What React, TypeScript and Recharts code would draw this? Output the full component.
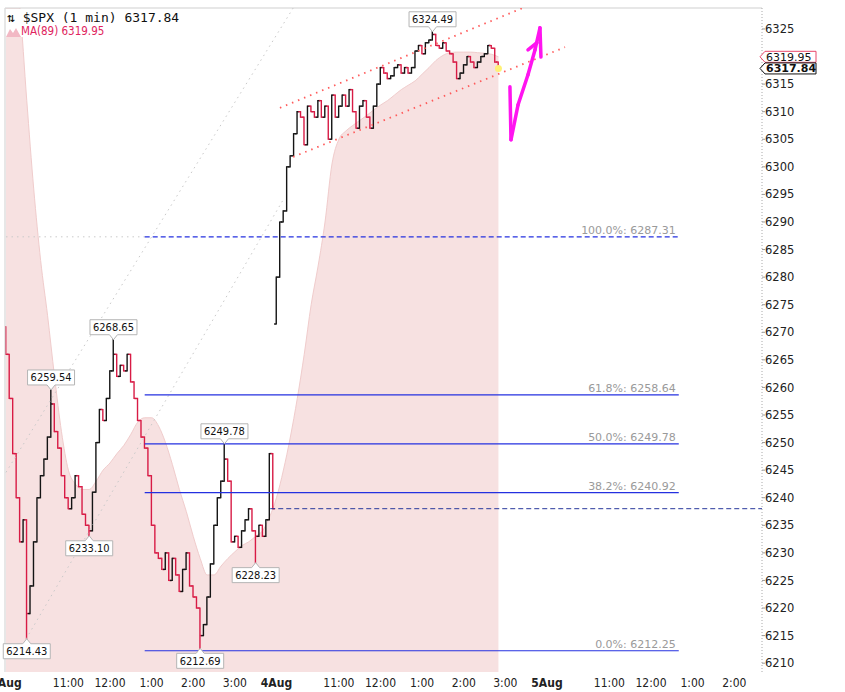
import React from 'react';
import { ComposedChart, Bar, Area, XAxis, YAxis, ReferenceLine, ReferenceDot } from 'recharts';

// minute index: 0 = 9:30 Aug 1, 390 = 9:30 Aug 4, 780 = 9:30 Aug 5
const X_MIN = -1.4;
const X_MAX = 1090;
const Y_MIN = 6208.4;
const Y_MAX = 6328.8;

const sessionStart = [0, 390];
const sessionOpen = [6271.0, 6271.5];

// 5-minute closes
const aug1Close = [
  6266, 6258, 6248, 6240, 6232, 6236, 6219, 6224, 6232, 6240,
  6244, 6247, 6251, 6257, 6252, 6249, 6244, 6240, 6238, 6240,
  6244, 6242, 6237, 6235, 6234, 6241, 6250, 6256, 6254, 6258,
  6263, 6266, 6262, 6264, 6263, 6266, 6261, 6258, 6254, 6251,
  6249, 6244, 6235, 6230, 6229, 6227, 6230, 6225, 6229, 6226,
  6223, 6227, 6230, 6224, 6222, 6220, 6215, 6217, 6222, 6228,
  6235, 6240, 6243, 6247, 6243, 6232, 6233, 6231, 6234, 6236,
  6238, 6234, 6233, 6235, 6233, 6236, 6248, 6238.01,
];

const aug4Close = [
  6280, 6290, 6292, 6300, 6302, 6306, 6310, 6309, 6304, 6311,
  6310, 6309, 6312, 6309, 6311, 6305, 6313, 6309, 6311, 6313,
  6311, 6314, 6310, 6307, 6311, 6312, 6309, 6307, 6311, 6315,
  6318, 6317, 6316, 6316.5, 6318, 6318.5, 6317, 6318, 6317, 6318,
  6321, 6322, 6320.5, 6322.5, 6323, 6324, 6322, 6321.5, 6322.5, 6321,
  6320.5, 6319, 6316, 6317, 6318.5, 6320, 6319, 6318, 6319, 6320,
  6320.5, 6322, 6321.5, 6319, 6317.84,
];

// MA(89) read every 10 minutes
const maMinutes = Array.from({ length: 72 }, (_, i) => i * 10);
const maValues = [
  6345, 6338, 6329, 6312, 6296, 6283, 6273, 6262, 6252, 6245,
  6242.5, 6241.5, 6241.5, 6243, 6245, 6246.3, 6248, 6249.5, 6251.5, 6253.7,
  6254.5, 6254.5, 6253, 6250, 6246, 6241.5, 6237.5, 6233, 6229, 6226,
  6226, 6227.6, 6229, 6230.2, 6231.3, 6232, 6233, 6234, 6236.5, 6240,
  6245, 6251, 6258, 6266, 6275, 6282, 6290, 6300.5, 6305, 6306.5,
  6307.5, 6308.4, 6309.3, 6310.3, 6311.2, 6312, 6313, 6314, 6314.8, 6315.6,
  6316.8, 6318, 6319.3, 6320.2, 6320.7, 6320.8, 6320.8, 6320.8, 6320.7, 6320.6,
  6320.4, 6319.95,
];

const pivots = [
  { t: 30, price: 6214.43, side: 'low' },
  { t: 65, price: 6259.54, side: 'high' },
  { t: 120, price: 6233.1, side: 'low' },
  { t: 155, price: 6268.65, side: 'high' },
  { t: 280, price: 6212.69, side: 'low' },
  { t: 315, price: 6249.78, side: 'high' },
  { t: 360, price: 6228.23, side: 'low' },
  { t: 615, price: 6324.49, side: 'high' },
];

const fibLevels = [
  { pct: '100.0%', price: 6287.31, dashed: true },
  { pct: '61.8%', price: 6258.64, dashed: false },
  { pct: '50.0%', price: 6249.78, dashed: false },
  { pct: '38.2%', price: 6240.92, dashed: false },
  { pct: '0.0%', price: 6212.25, dashed: false },
];
const fibFrom = 200;
const fibTo = 970;

const prevClose = 6238.01;
const lastPrice = 6317.84;
const maLast = 6319.95;

const channelUpper = [{ t: 395, p: 6310.7 }, { t: 774, p: 6330.3 }];
const channelLower = [{ t: 414, p: 6301.8 }, { t: 806, p: 6321.7 }];
const trendA = [{ t: 0, p: 6244.6 }, { t: 420, p: 6330 }];
const trendB = [{ t: 29, p: 6214.4 }, { t: 400, p: 6294.1 }];

const arrowStroke = [
  { t: 726.6, p: 6314.5 },
  { t: 728.1, p: 6304.9 },
  { t: 738.2, p: 6311.2 },
  { t: 752.6, p: 6316.7 },
  { t: 762.7, p: 6321.2 },
  { t: 769.9, p: 6325.2 },
  { t: 771.3, p: 6319.9 },
];
const arrowHook = [{ t: 752.6, p: 6321.2 }, { t: 765.6, p: 6322.5 }];

const timeTicks = [0, 90, 150, 210, 270, 330, 390, 480, 540, 600, 660, 720, 780, 870, 930, 990, 1050];
const timeLabels = ['1Aug', '11:00', '12:00', '1:00', '2:00', '3:00', '4Aug', '11:00', '12:00', '1:00', '2:00', '3:00', '5Aug', '11:00', '12:00', '1:00', '2:00'];

const priceTicks = [
  6210, 6215, 6220, 6225, 6230, 6235, 6240, 6245, 6250, 6255, 6260, 6265, 6270,
  6275, 6280, 6285, 6290, 6295, 6300, 6305, 6310, 6315, 6325,
];

const bars = [aug1Close, aug4Close].flatMap((closes, s) =>
  closes.map((close, i) => {
    const t = sessionStart[s] + i * 5;
    const prev = i === 0 ? sessionOpen[s] : closes[i - 1];
    const piv = pivots.find((p) => p.t === t);
    const extra = piv ? [piv.price] : [];
    return { t, prev, close, range: [Math.min(prev, close, ...extra), Math.max(prev, close, ...extra)] };
  })
);

const maRows = maMinutes.map((t, i) => ({ t, ma: maValues[i] }));

const LABEL_FONT = "'DejaVu Sans Condensed', 'DejaVu Sans', sans-serif";

const OhlcShape = (props: any) => {
  const { x, y, width, height, payload } = props;
  if (x == null || y == null) return null;
  const top = Math.min(y, y + height);
  const h = Math.max(Math.abs(height), 1);
  const [lo, hi] = payload.range;
  const span = hi - lo || 1;
  const yOf = (p: number) => top + ((hi - p) / span) * h;
  const cx = x + width / 2;
  const color = payload.close >= payload.prev ? '#141414' : '#d81b45';
  return (
    <g stroke={color} strokeWidth={1.4}>
      <line x1={cx} x2={cx} y1={top - 0.6} y2={top + h + 0.6} />
      <line x1={cx - 2.2} x2={cx} y1={yOf(payload.prev)} y2={yOf(payload.prev)} />
      <line x1={cx} x2={cx + 2.2} y1={yOf(payload.close)} y2={yOf(payload.close)} />
    </g>
  );
};

const PivotTag = ({ cx, cy, text, side }: any) => {
  const w = 47;
  const h = 15;
  const tip = 5;
  const l = cx - w / 2;
  const r = cx + w / 2;
  let d: string;
  let top: number;
  if (side === 'high') {
    top = cy - tip - h;
    d = `M${l},${top} H${r} V${top + h} H${cx + 4} L${cx},${cy} L${cx - 4},${top + h} H${l} Z`;
  } else {
    top = cy + tip;
    d = `M${l},${top} H${cx - 4} L${cx},${cy} L${cx + 4},${top} H${r} V${top + h} H${l} Z`;
  }
  return (
    <g>
      <path d={d} fill="#fff" stroke="#b5b5b5" strokeWidth={1} />
      <text x={cx} y={top + h / 2} dy="0.36em" textAnchor="middle" fontSize={11} fontFamily={LABEL_FONT} fill="#111">
        {text}
      </text>
    </g>
  );
};

const PriceMarker = ({ cx, cy, text, border, bold }: any) => {
  const d = `M${cx - 2},${cy} L${cx + 3},${cy - 5.5} H${cx + 54} V${cy + 5.5} H${cx + 3} Z`;
  return (
    <g>
      <path d={d} fill="#fff" stroke={border} strokeWidth={1} />
      <text x={cx + 4} y={cy} dy="0.36em" fontSize={11} fontWeight={bold ? 'bold' : 'normal'} fontFamily="'DejaVu Sans', sans-serif" fill="#111">
        {text}
      </text>
    </g>
  );
};

const TimeTick = (props: any) => {
  const { x, y, payload } = props;
  const label = timeLabels[timeTicks.indexOf(payload.value)] ?? '';
  const bold = label.includes('Aug');
  return (
    <text x={x} y={y} dy="0.71em" textAnchor="middle" fontSize={12} fontWeight={bold ? 'bold' : 'normal'}
      fontFamily="'Liberation Sans Narrow', 'DejaVu Sans Condensed', sans-serif" fill="#222">
      {label}
    </text>
  );
};

const seg = (pts: { t: number; p: number }[]) => pts.map((q) => ({ x: q.t, y: q.p }));

export default function App() {
  return (
    <div style={{ position: 'absolute', left: 0, top: 0, width: 845, height: 692, background: '#fff' }}>
      <ComposedChart width={845} height={692} data={bars} margin={{ top: 8, right: 0, left: 5, bottom: 0 }}>
        <XAxis
          type="number"
          dataKey="t"
          domain={[X_MIN, X_MAX]}
          allowDataOverflow
          ticks={timeTicks}
          interval={0}
          tick={<TimeTick />}
          tickLine={false}
          axisLine={false}
          tickSize={4}
          tickMargin={2}
          height={20}
        />
        <YAxis
          orientation="right"
          type="number"
          domain={[Y_MIN, Y_MAX]}
          allowDataOverflow
          ticks={priceTicks}
          interval={0}
          width={83}
          tickSize={3}
          tickMargin={0}
          tick={{ fontSize: 11.5, fill: '#222', fontFamily: "'DejaVu Sans', sans-serif" }}
          tickLine={{ stroke: '#999' }}
          axisLine={{ stroke: '#aaa', strokeDasharray: '1 2' }}
        />
        <Area
          data={maRows}
          dataKey="ma"
          type="monotone"
          fill="#f7e1e1"
          fillOpacity={1}
          stroke="#f0cccc"
          strokeWidth={1}
          dot={false}
          activeDot={false}
          isAnimationActive={false}
        />
        <ReferenceLine y={Y_MAX} stroke="#cfcfcf" ifOverflow="visible" />
        <ReferenceLine x={X_MIN} stroke="#cfcfcf" ifOverflow="visible" />
        <ReferenceLine segment={seg(trendA)} stroke="#c9c9c9" strokeDasharray="1.5 4" ifOverflow="hidden" />
        <ReferenceLine segment={seg(trendB)} stroke="#c9c9c9" strokeDasharray="1.5 4" ifOverflow="hidden" />
        <ReferenceLine
          segment={[{ x: 0, y: fibLevels[0].price }, { x: fibFrom, y: fibLevels[0].price }]}
          stroke="#c9c9c9"
          strokeDasharray="1.5 4"
          ifOverflow="hidden"
        />
        {fibLevels.map((f) => (
          <ReferenceLine
            key={f.pct}
            segment={[{ x: fibFrom, y: f.price }, { x: fibTo, y: f.price }]}
            stroke="#2430e0"
            strokeWidth={1.2}
            strokeDasharray={f.dashed ? '5 3' : undefined}
            ifOverflow="hidden"
            label={{
              value: `${f.pct}: ${f.price.toFixed(2)}`,
              position: 'insideBottomRight',
              offset: 3,
              fontSize: 11,
              fill: '#9a9a9a',
              fontFamily: "'DejaVu Sans', sans-serif",
            }}
          />
        ))}
        <ReferenceLine
          segment={[{ x: 381, y: prevClose }, { x: X_MAX, y: prevClose }]}
          stroke="#28389c"
          strokeDasharray="5 3"
          ifOverflow="hidden"
        />
        <ReferenceLine segment={seg(channelUpper)} stroke="#ff5a5a" strokeWidth={1.8} strokeDasharray="1.5 5" ifOverflow="hidden" />
        <ReferenceLine segment={seg(channelLower)} stroke="#ff5a5a" strokeWidth={1.8} strokeDasharray="1.5 5" ifOverflow="hidden" />
        <ReferenceDot x={710} y={lastPrice} r={3.5} fill="#fff176" stroke="none" />
        <Bar dataKey="range" barSize={3} shape={<OhlcShape />} isAnimationActive={false} />
        {arrowStroke.slice(1).map((q, i) => (
          <ReferenceLine
            key={`a${i}`}
            segment={[{ x: arrowStroke[i].t, y: arrowStroke[i].p }, { x: q.t, y: q.p }]}
            stroke="#ff14f0"
            strokeWidth={3.5}
            strokeLinecap="round"
            ifOverflow="visible"
          />
        ))}
        <ReferenceLine segment={seg(arrowHook)} stroke="#ff14f0" strokeWidth={3.5} strokeLinecap="round" ifOverflow="visible" />
        {pivots.map((p) => (
          <ReferenceDot
            key={p.t}
            x={p.t}
            y={p.price}
            r={0}
            ifOverflow="visible"
            shape={(props: any) => <PivotTag cx={props.cx} cy={props.cy} text={p.price.toFixed(2)} side={p.side} />}
          />
        ))}
        <ReferenceDot
          x={X_MAX}
          y={maLast}
          r={0}
          ifOverflow="visible"
          shape={(props: any) => <PriceMarker cx={props.cx} cy={props.cy} text={maLast.toFixed(2)} border="#e8476a" />}
        />
        <ReferenceDot
          x={X_MAX}
          y={lastPrice}
          r={0}
          ifOverflow="visible"
          shape={(props: any) => <PriceMarker cx={props.cx} cy={props.cy} text={lastPrice.toFixed(2)} border="#111" bold />}
        />
      </ComposedChart>
      <div style={{ position: 'absolute', left: 6, top: 9, width: 180, height: 28, background: '#fff', lineHeight: 1 }}>
        <div style={{ position: 'absolute', left: 1, top: 2, fontFamily: "'DejaVu Sans Mono', monospace", fontSize: 13, color: '#111', whiteSpace: 'nowrap' }}>
          ⇅ $SPX (1 min) {lastPrice.toFixed(2)}
        </div>
        <div style={{ position: 'absolute', left: 0, top: 17, display: 'flex', alignItems: 'center', whiteSpace: 'nowrap' }}>
          <svg width={15} height={10}>
            <path d="M0,10 L4,2 L7,6 L10,1 L15,10 Z" fill="#f2b8c4" />
          </svg>
          <span style={{ fontFamily: LABEL_FONT, fontSize: 11.5, color: '#e0245e' }}>MA(89) {maLast.toFixed(2)}</span>
        </div>
      </div>
    </div>
  );
}
